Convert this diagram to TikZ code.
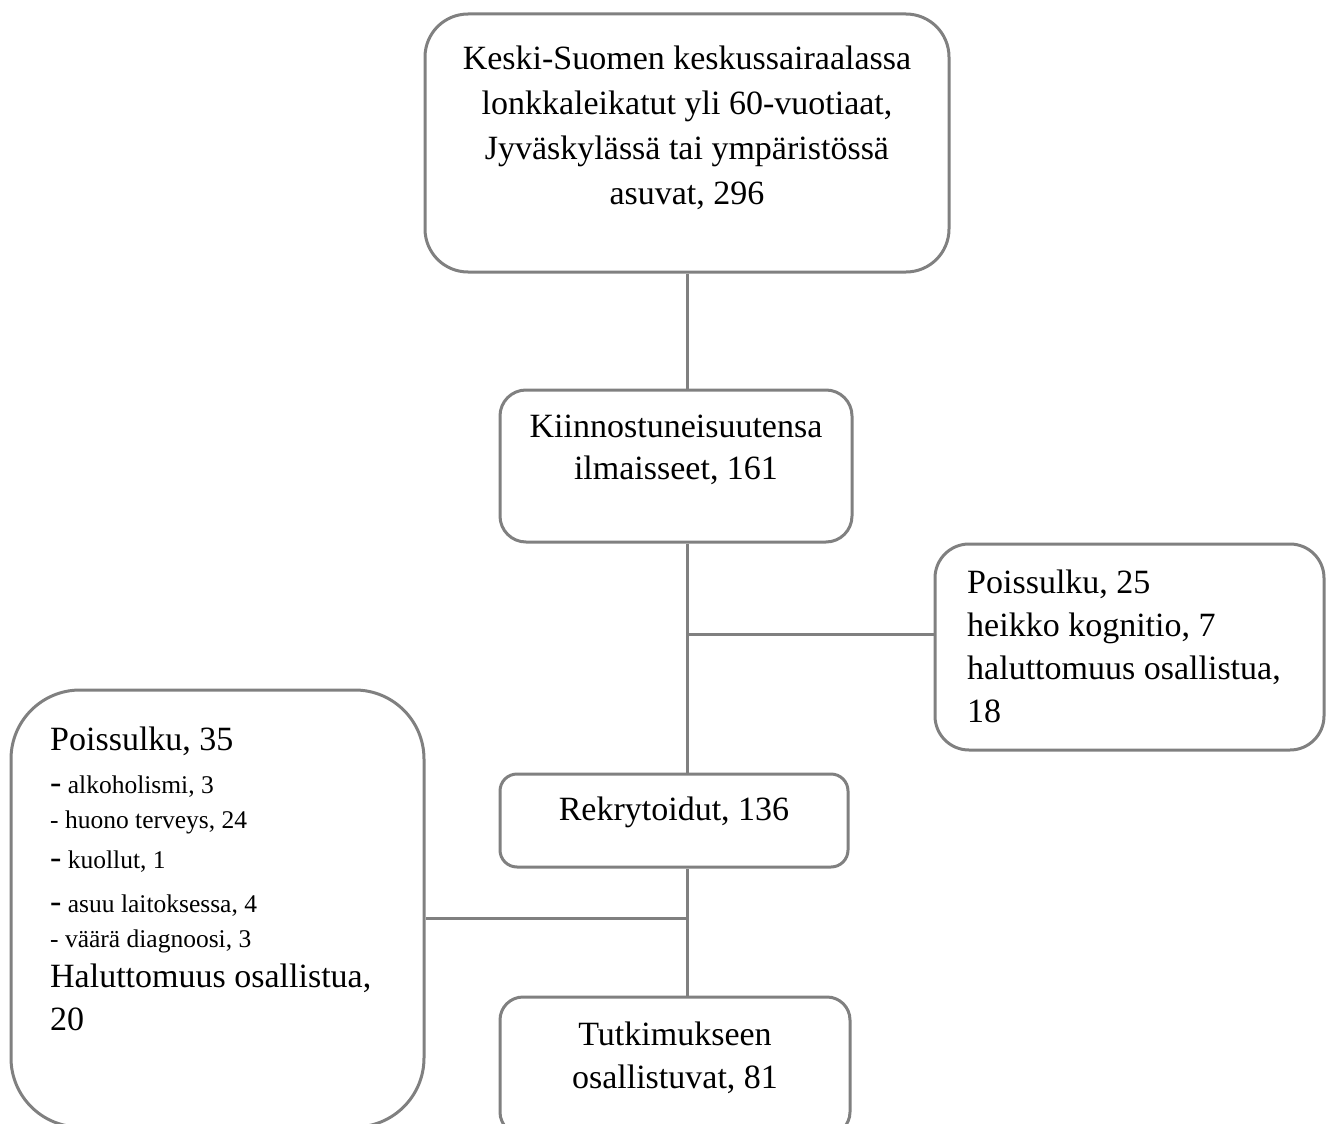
\documentclass[tikz,border=0pt]{standalone}
\usepackage{fontspec}
\setmainfont{Liberation Serif}
\usetikzlibrary{positioning,calc}
\definecolor{viiva}{HTML}{808080}
\newcommand{\isoviiva}{{\fontsize{34}{40}\selectfont -}}

\tikzset{
  laatikko/.style={draw=viiva, line width=3pt, rectangle, inner sep=0pt},
  teksti/.style={inner sep=0pt, font=\fontsize{34}{45}\selectfont},
  pieni/.style={inner sep=0pt, font=\fontsize{25.5}{30}\selectfont},
  yhteys/.style={draw=viiva, line width=3pt},
}

\begin{document}
\begin{tikzpicture}[x=1pt, y=-1pt]
    \useasboundingbox (0,0) rectangle (1326,1124);
    \clip (0,0) rectangle (1326,1124);

    % Laatikot
    \node[laatikko, minimum width=524pt, minimum height=258pt, rounded corners=43pt] (kaikki) at (687,143) {};
    \node[laatikko, minimum width=352pt, minimum height=152pt, rounded corners=26pt] (kiinnostuneet) at (676,466) {};
    \node[laatikko, minimum width=389pt, minimum height=206pt, rounded corners=34pt] (poissulku1) at (1129.5,647) {};
    \node[laatikko, minimum width=348pt, minimum height=93pt, rounded corners=17pt] (rekrytoidut) at (674,820.5) {};
    \node[laatikko, minimum width=413pt, minimum height=437pt, rounded corners=69pt] (poissulku2) at (217.5,908.5) {};
    \node[laatikko, minimum width=350pt, minimum height=138pt, rounded corners=23pt] (osallistuvat) at (675,1066) {};

    % Tekstit
    \node[teksti, align=center, anchor=north] (kaikkiteksti) at (687,46)
        {Keski-Suomen keskussairaalassa\\lonkkaleikatut yli 60-vuotiaat,\\Jyväskylässä tai ympäristössä\\asuvat, 296};
    \node[teksti, align=center, anchor=north, font=\fontsize{34}{42}\selectfont] (kiinnostuneetteksti) at (676,415)
        {Kiinnostuneisuutensa\\ilmaisseet, 161};
    \node[teksti, anchor=base] (rekrytoidutteksti) at (674,820) {Rekrytoidut, 136};
    \node[teksti, align=center, anchor=north, font=\fontsize{34}{43}\selectfont] (osallistuvatteksti) at (675,1022)
        {Tutkimukseen\\osallistuvat, 81};
    \node[teksti, align=left, anchor=north west, font=\fontsize{34}{43}\selectfont] (poissulku1teksti) at (967,570)
        {Poissulku, 25\\heikko kognitio, 7\\haluttomuus osallistua,\\18};

    \node[teksti, anchor=base west] (syy0) at (50,750) {Poissulku, 35};
    \node[pieni, anchor=base west] (syy1) at (50,793) {\isoviiva{} alkoholismi, 3};
    \node[pieni, anchor=base west] (syy2) at (50,828) {- huono terveys, 24};
    \node[pieni, anchor=base west] (syy3) at (50,868) {\isoviiva{} kuollut, 1};
    \node[pieni, anchor=base west] (syy4) at (50,912) {\isoviiva{} asuu laitoksessa, 4};
    \node[pieni, anchor=base west] (syy5) at (50,947) {- väärä diagnoosi, 3};
    \node[teksti, anchor=base west] (syy6) at (50,987) {Haluttomuus osallistua,};
    \node[teksti, anchor=base west] (syy7) at (50,1030) {20};

    % Yhteydet
    \coordinate (haara1) at (687,634);
    \coordinate (haara2) at (687,918);
    \draw[yhteys] (kaikki.south) -- (kaikki.south |- kiinnostuneet.north);
    \draw[yhteys] (kaikki.south |- kiinnostuneet.south) -- (kaikki.south |- rekrytoidut.north);
    \draw[yhteys] (kaikki.south |- rekrytoidut.south) -- (kaikki.south |- osallistuvat.north);
    \draw[yhteys] (haara1) -- (haara1 -| poissulku1.west);
    \draw[yhteys] (haara2) -- (haara2 -| poissulku2.east);
\end{tikzpicture}
\end{document}
